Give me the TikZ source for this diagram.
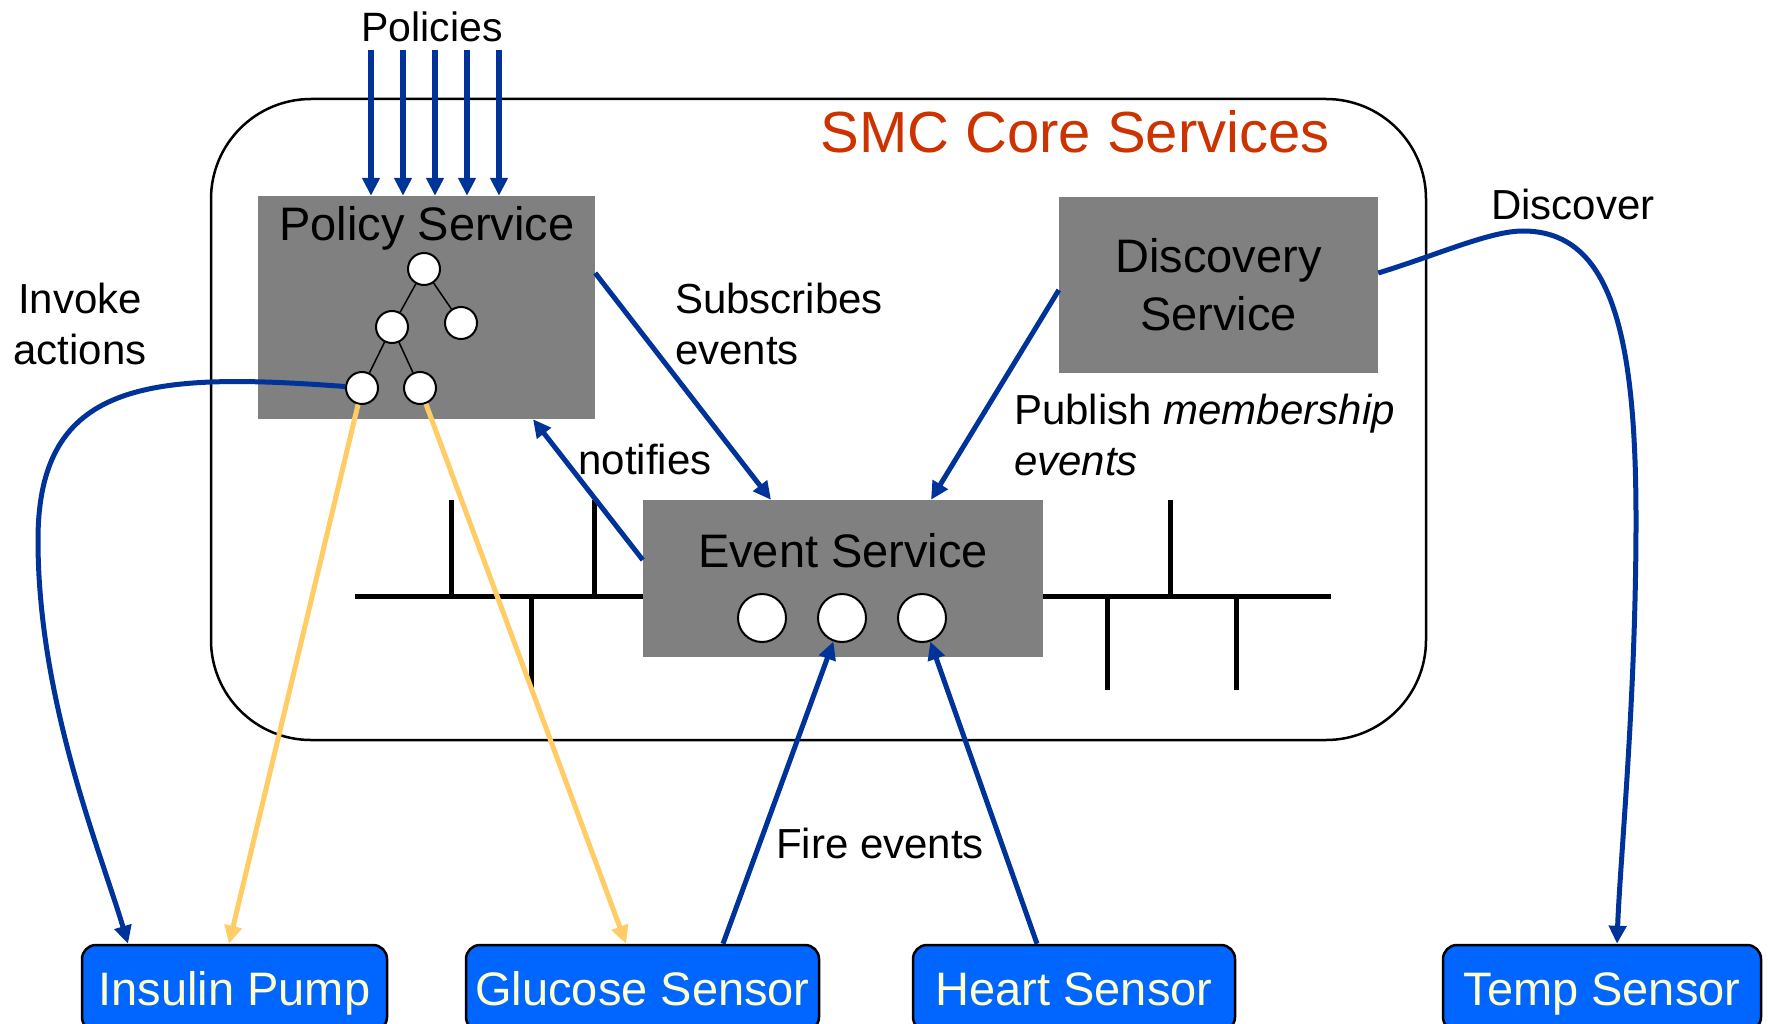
\documentclass[tikz,border=0pt]{standalone}
\usepackage{fontspec}
\setmainfont{Liberation Sans}
\usetikzlibrary{arrows.meta,positioning}

\definecolor{smcblue}{HTML}{003399}
\definecolor{devblue}{HTML}{0066FF}
\definecolor{devtext}{HTML}{FFFFCC}
\definecolor{actyellow}{HTML}{FFCC66}
\definecolor{titlered}{HTML}{CC3300}
\definecolor{svcgray}{HTML}{808080}

\begin{document}
\begin{tikzpicture}[x=1pt, y=-1pt,
    svc/.style={fill=svcgray, draw=none, inner sep=0pt},
    dev/.style={draw=black, line width=2.5pt, fill=devblue, rounded corners=14pt,
                text=devtext, font=\fontsize{47}{56}\selectfont,
                text height=40pt, text depth=6pt,
                minimum height=86pt, inner sep=0pt},
    knob/.style={circle, draw=black, line width=2pt, fill=white, inner sep=0pt, minimum size=#1},
    knob/.default=32pt,
    flow/.style={draw=smcblue, line width=5pt, -{Triangle[length=18pt,width=17pt]}},
    act/.style={draw=actyellow, line width=5pt, -{Triangle[length=18pt,width=17pt]}},
    bus/.style={line width=5pt},
    lbl/.style={font=\fontsize{42}{51}\selectfont, inner sep=0pt},
    big/.style={font=\fontsize{47}{56}\selectfont, inner sep=0pt}]

    \useasboundingbox (0,0) rectangle (1768,1024);
    \clip (0,0) rectangle (1768,1024);
    \fill[white] (0,0) rectangle (1768,1024);

    % SMC core
    \draw[line width=2.5pt, rounded corners=100pt] (211,99) rectangle (1426,740);
    \node[text=titlered, font=\fontsize{58}{70}\selectfont, inner sep=0pt] (coretitle) at (1075,132) {SMC Core Services};

    % event bus
    \draw[bus] (355,596) -- (643,596);
    \draw[bus] (1043,596) -- (1331,596);
    \draw[bus] (451,500) -- (451,596);
    \draw[bus] (594,500) -- (594,596);
    \draw[bus] (531,596) -- (531,690);
    \draw[bus] (1170,500) -- (1170,596);
    \draw[bus] (1107,596) -- (1107,690);
    \draw[bus] (1236,596) -- (1236,690);

    % services
    \node[svc, minimum width=337pt, minimum height=223pt] (policy) at (426.5,307.5) {};
    \node[big] (policytitle) at (427,228) {Policy Service};
    \node[svc, minimum width=319pt, minimum height=175pt, align=center,
          font=\fontsize{47}{58}\selectfont] (discovery) at (1218.5,285) {Discovery\\Service};
    \node[svc, minimum width=400pt, minimum height=157pt] (event) at (843,578.5) {};
    \node[big] (eventtitle) at (843,551) {Event Service};

    % policy tree
    \node[knob] (root) at (424,269) {};
    \node[knob] (ml) at (392,327) {};
    \node[knob] (mr) at (461,323) {};
    \node[knob] (bl) at (362,388) {};
    \node[knob] (br) at (420,388) {};
    \draw[line width=1.5pt] (root) -- (ml);
    \draw[line width=1.5pt] (root) -- (mr);
    \draw[line width=1.5pt] (ml) -- (bl);
    \draw[line width=1.5pt] (ml) -- (br);

    % event slots
    \foreach \i/\x in {1/762,2/842,3/922}
        \node[knob=48pt] (ev\i) at (\x,618) {};

    % devices
    \node[dev, minimum width=305pt] (insulin) at (234.5,988) {Insulin Pump};
    \node[dev, minimum width=353pt] (glucose) at (642.5,988) {Glucose Sensor};
    \node[dev, minimum width=322pt] (heart) at (1074,988) {Heart Sensor};
    \node[dev, minimum width=318pt] (temp) at (1602,988) {Temp Sensor};

    % incoming policies
    \node[font=\fontsize{41}{50}\selectfont, inner sep=0pt] (pollbl) at (432,27) {Policies};
    \foreach \i in {0,...,4} {
        \coordinate (pin\i) at (371+32*\i,50);
        \draw[flow, line width=5.5pt] (pin\i) -- (pin\i |- policy.north);
    }

    % service links
    \draw[flow] ([yshift=34.5pt]policy.east) -- ([xshift=-72pt]event.north);
    \draw[flow] ([yshift=18.5pt]event.west) -- ([xshift=106.5pt]policy.south);
    \draw[flow] ([yshift=-5pt]discovery.west) -- ([xshift=88pt]event.north);
    \draw[flow] ([yshift=12pt]discovery.east) .. controls (1440,254) and (1490,231) .. (1523,231)
        .. controls (1610,231) and (1636,330) .. (1636,520)
        .. controls (1636,700) and (1620,860) .. ([xshift=15pt]temp.north);

    % actions
    \draw[flow] (bl.175) .. controls (150,372) and (38,380) .. (38,540)
        .. controls (38,700) and (100,850) .. ([xshift=-106.5pt]insulin.north);
    \draw[act] (bl) -- ([xshift=-5.5pt]insulin.north);
    \draw[act] (br) -- ([xshift=-16.5pt]glucose.north);

    % sensor events
    \draw[flow] ([xshift=80.5pt]glucose.north) -- (ev2);
    \draw[flow] ([xshift=-37pt]heart.north) -- (ev3);

    % labels
    \node[lbl, align=center] (invokelbl) at (80,324) {Invoke\\actions};
    \node[lbl, align=left, anchor=west] (sublbl) at (675,324) {Subscribes\\events};
    \node[lbl] (notlbl) at (645,459) {notifies};
    \node[lbl, align=left, anchor=west] (publbl) at (1014,435) {Publish \emph{membership}\\\emph{events}};
    \node[lbl] (disclbl) at (1573,204) {Discover};
    \node[lbl] (firelbl) at (880,843) {Fire events};

\end{tikzpicture}
\end{document}
